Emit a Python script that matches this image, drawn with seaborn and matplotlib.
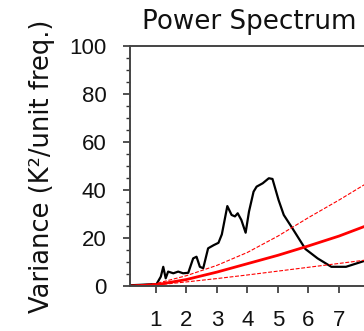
import matplotlib
matplotlib.use("Agg")
import matplotlib.pyplot as plt
from matplotlib.ticker import MultipleLocator
import seaborn as sns
import pandas as pd

# spectrum
freq = [0.15, 0.5, 0.8, 1.02, 1.16, 1.24, 1.32, 1.40, 1.57, 1.73, 1.89, 2.06,
        2.22, 2.33, 2.44, 2.55, 2.71, 2.89, 3.05, 3.16, 3.34, 3.48, 3.59, 3.68,
        3.80, 3.94, 4.05, 4.20, 4.30, 4.50, 4.70, 4.82, 5.02, 5.19, 5.46, 5.90,
        6.30, 6.75, 7.23, 7.82, 8.0]
variance = [0.3, 0.5, 0.7, 0.8, 3.9, 8.0, 3.2, 6.0, 5.3, 6.0, 5.3, 5.5,
            11.5, 12.2, 8.0, 7.4, 15.7, 17.0, 18.0, 21.5, 33.3, 29.6, 29.0, 30.3,
            27.5, 22.2, 31.0, 39.3, 41.4, 42.8, 44.9, 44.6, 35.8, 29.6, 24.3, 15.4,
            11.5, 8.0, 8.0, 10.4, 11.0]

# red noise background and its bounds
red_freq = [0.15, 1, 2, 3, 4, 5, 6, 7, 8]
red_mid = [0.0, 0.5, 2.7, 5.8, 9.3, 12.8, 16.7, 20.8, 25.6]
red_upper = [0.0, 1.0, 4.3, 8.6, 14.0, 20.8, 28.5, 35.8, 43.5]
red_lower = [0.0, 0.4, 1.7, 3.1, 4.6, 6.2, 7.8, 9.4, 11.0]

spec = pd.DataFrame({"freq": freq, "var": variance})
red = pd.DataFrame({"freq": red_freq, "mid": red_mid, "up": red_upper, "lo": red_lower})

sns.set_style("ticks")
plt.rcParams["font.family"] = ["Liberation Sans", "DejaVu Sans"]

fig = plt.figure(figsize=(3.64, 3.31), dpi=100)
ax = fig.add_axes([130 / 364, 45 / 331, 239.5 / 364, 240 / 331])

sns.lineplot(data=spec, x="freq", y="var", ax=ax, color="black", lw=1.6)
sns.lineplot(data=red, x="freq", y="mid", ax=ax, color="red", lw=2.0)
sns.lineplot(data=red, x="freq", y="up", ax=ax, color="red", lw=0.8, ls=(0, (3.5, 1.5)))
sns.lineplot(data=red, x="freq", y="lo", ax=ax, color="red", lw=0.8, ls=(0, (3.5, 1.5)))

ax.set_xlim(0.15, 8.0)
ax.set_ylim(0, 100)
ax.set_xticks([1, 2, 3, 4, 5, 6, 7, 8])
ax.set_yticks([0, 20, 40, 60, 80, 100])
ax.yaxis.set_minor_locator(MultipleLocator(5))

for side in ["left", "bottom", "top", "right"]:
    ax.spines[side].set_color("#444444")
    ax.spines[side].set_linewidth(1.4)

ax.tick_params(axis="both", which="major", length=5, width=1.2, color="#333333",
               labelsize=16, pad=12, labelcolor="#111111")
ax.tick_params(axis="y", which="minor", length=3, width=1.0, color="#333333")

ax.set_xlabel("")
ax.set_ylabel("Variance (K²/unit freq.)", fontsize=18.5, labelpad=10,
              family="DejaVu Sans", color="#111111")
ax.set_title("Power Spectrum", fontsize=18.8, pad=12, family="DejaVu Sans",
             color="#111111")

fig.text(-6 / 364, 1 - 4 / 331, "E", fontsize=20, fontweight="bold",
         ha="left", va="bottom")

fig.savefig("out.png", dpi=100)
